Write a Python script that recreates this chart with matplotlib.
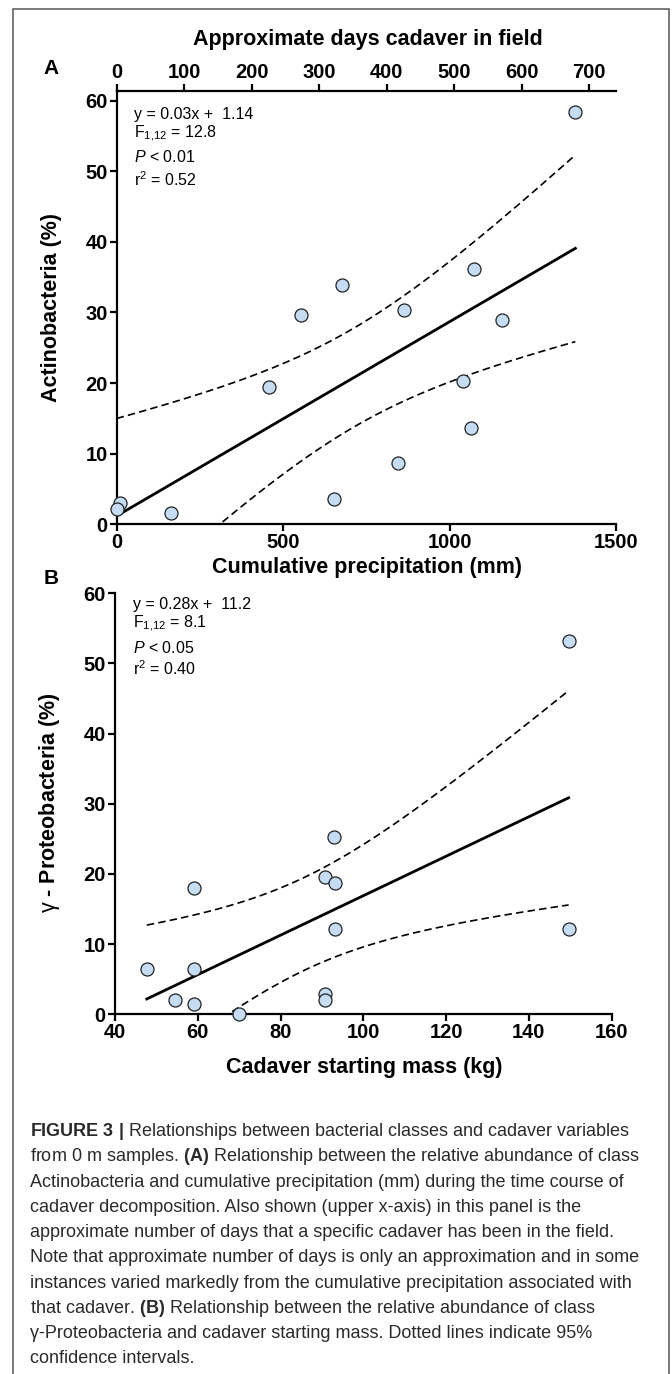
import numpy as np
import matplotlib
matplotlib.use("Agg")
import matplotlib.pyplot as plt
from matplotlib.patches import Rectangle

plt.rcParams['font.family'] = ['Liberation Sans', 'DejaVu Sans']
plt.rcParams['mathtext.fontset'] = 'custom'
plt.rcParams['mathtext.rm'] = 'Liberation Sans'
plt.rcParams['mathtext.it'] = 'Liberation Sans:italic'
plt.rcParams['mathtext.bf'] = 'Liberation Sans:bold'

# panel A: cumulative precipitation (mm) vs Actinobacteria (%)
precip = [1378, 1072, 676, 553, 864, 1158, 457, 1040, 1064, 846, 653, 162, 10, 0]
actino = [58.4, 36.1, 33.9, 29.6, 30.3, 28.9, 19.5, 20.3, 13.7, 8.7, 3.6, 1.6, 3.0, 2.1]

# panel B: cadaver starting mass (kg) vs gamma-Proteobacteria (%)
mass = [149.6, 93.0, 90.8, 93.1, 59.0, 93.1, 149.6, 47.7, 59.0, 54.5, 59.0, 90.8, 90.8, 69.9]
gproteo = [53.2, 25.2, 19.5, 18.7, 18.0, 12.2, 12.2, 6.4, 6.4, 2.1, 1.4, 2.9, 2.1, 0.0]

stats_a = ["y = 0.03x +  1.14", r"F$_{1{,}12}$ = 12.8", r"$P$ < 0.01", r"r$^{2}$ = 0.52"]
stats_b = ["y = 0.28x +  11.2", r"F$_{1{,}12}$ = 8.1", r"$P$ < 0.05", r"r$^{2}$ = 0.40"]

caption = [
    r"$\mathbf{FIGURE\ 3\ |}$ Relationships between bacterial classes and cadaver variables",
    r"from 0 m samples. $\mathbf{(A)}$ Relationship between the relative abundance of class",
    "Actinobacteria and cumulative precipitation (mm) during the time course of",
    "cadaver decomposition. Also shown (upper x-axis) in this panel is the",
    "approximate number of days that a specific cadaver has been in the field.",
    "Note that approximate number of days is only an approximation and in some",
    "instances varied markedly from the cumulative precipitation associated with",
    r"that cadaver. $\mathbf{(B)}$ Relationship between the relative abundance of class",
    "\u03b3-Proteobacteria and cadaver starting mass. Dotted lines indicate 95%",
    "confidence intervals.",
]

W, H = 672, 1374
T_CRIT = 2.179  # t(0.975, 12)
TICK_FS = 14.5
LABEL_FS = 15.5


def px(x, y):
    return x / W, 1 - y / H


def fit_with_ci(x, y):
    x = np.asarray(x, float)
    y = np.asarray(y, float)
    n = len(x)
    slope, icpt = np.polyfit(x, y, 1)
    resid = y - (slope * x + icpt)
    s = np.sqrt(np.sum(resid ** 2) / (n - 2))
    sxx = np.sum((x - x.mean()) ** 2)
    xs = np.linspace(x.min(), x.max(), 200)
    ys = slope * xs + icpt
    half = T_CRIT * s * np.sqrt(1.0 / n + (xs - x.mean()) ** 2 / sxx)
    return xs, ys, ys - half, ys + half


def style_axis(ax):
    for side in ['left', 'bottom', 'top']:
        ax.spines[side].set_linewidth(1.6)
    ax.spines['right'].set_visible(False)
    ax.tick_params(width=1.6, length=5, labelsize=TICK_FS, pad=1.5)
    for lab in ax.get_xticklabels() + ax.get_yticklabels():
        lab.set_fontweight('bold')


def draw_panel(ax, x, y):
    xs, ys, lo, hi = fit_with_ci(x, y)
    ax.plot(xs, ys, color='black', lw=2.0, zorder=3)
    ax.plot(xs, lo, color='black', lw=1.2, dashes=(4.5, 2.5), zorder=3)
    ax.plot(xs, hi, color='black', lw=1.2, dashes=(4.5, 2.5), zorder=3)
    ax.scatter(x, y, s=88, facecolor='#c6dcf3', edgecolor='#222222',
               linewidth=0.9, zorder=4, clip_on=False)


fig = plt.figure(figsize=(W / 100, H / 100), dpi=100)

# ---- panel A ----
axA = fig.add_axes([116.6 / W, 1 - 524.3 / H, (616 - 116.6) / W, (524.3 - 90.7) / H])
draw_panel(axA, precip, actino)
axA.set_xlim(0, 1500)
axA.set_ylim(0, 61.4)
axA.set_xticks([0, 500, 1000, 1500])
axA.set_yticks([0, 10, 20, 30, 40, 50, 60])
style_axis(axA)
axA.spines['top'].set_visible(False)

axT = axA.twiny()
axT.set_xlim(0, (616 - 116.6) / 0.675)
axT.set_xticks(range(0, 800, 100))
for side in ['left', 'right', 'bottom']:
    axT.spines[side].set_visible(False)
axT.spines['top'].set_linewidth(1.6)
axT.tick_params(width=1.6, length=5, labelsize=TICK_FS, pad=1.5)
for lab in axT.get_xticklabels():
    lab.set_fontweight('bold')

for i, line in enumerate(stats_a):
    axA.text(0.035, [0.946, 0.900, 0.847, 0.796][i], line, transform=axA.transAxes,
             fontsize=11.5, va='center', ha='left')

# ---- panel B ----
axB = fig.add_axes([114.9 / W, 1 - 1014.3 / H, (611.7 - 114.9) / W, (1014.3 - 593.3) / H])
draw_panel(axB, mass, gproteo)
axB.set_xlim(40, 160)
axB.set_ylim(0, 60)
axB.set_xticks(range(40, 161, 20))
axB.set_yticks([0, 10, 20, 30, 40, 50, 60])
style_axis(axB)
axB.spines['top'].set_visible(False)

for i, line in enumerate(stats_b):
    axB.text(0.036, [0.974, 0.927, 0.871, 0.822][i], line, transform=axB.transAxes,
             fontsize=11.5, va='center', ha='left')

# ---- labels ----
fig.text(*px(368, 40), "Approximate days cadaver in field", fontsize=LABEL_FS, fontweight='bold',
         ha='center', va='center')
fig.text(*px(367, 568), "Cumulative precipitation (mm)", fontsize=LABEL_FS, fontweight='bold',
         ha='center', va='center')
fig.text(*px(364, 1067), "Cadaver starting mass (kg)", fontsize=LABEL_FS, fontweight='bold',
         ha='center', va='center')
fig.text(*px(52, 307), "Actinobacteria (%)", fontsize=LABEL_FS, fontweight='bold',
         ha='center', va='center', rotation=90)
fig.text(*px(50, 803), r"$\mathrm{\gamma}$ - Proteobacteria (%)", fontsize=LABEL_FS, fontweight='bold',
         ha='center', va='center', rotation=90)
fig.text(*px(51, 68), "A", fontsize=15, fontweight='bold', ha='center', va='center')
fig.text(*px(51, 579), "B", fontsize=15, fontweight='bold', ha='center', va='center')

# ---- caption ----
for i, line in enumerate(caption):
    fig.text(*px(30, 1131.7 + 25.25 * i), line, fontsize=13, color='#2a2a2a',
             ha='left', va='center')

# outer frame
fig.patches.append(Rectangle(px(13, 1400), (669 - 13) / W, (1400 - 9) / H,
                             transform=fig.transFigure, fill=False,
                             edgecolor='#555555', lw=1.1))

fig.savefig("out.png", dpi=100)
